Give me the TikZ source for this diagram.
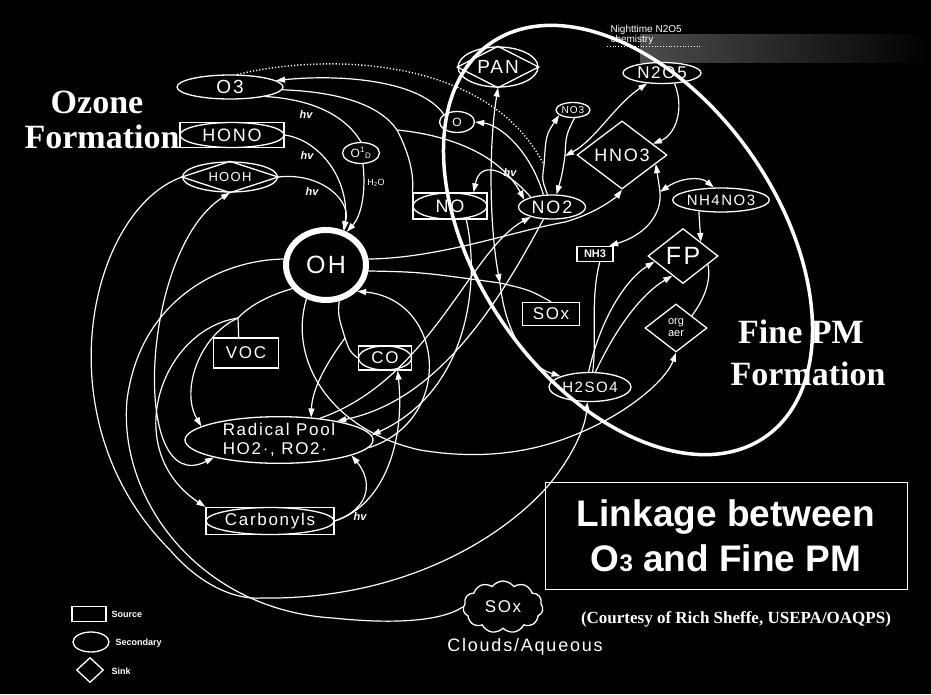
\documentclass[tikz,border=0pt]{standalone}
\usepackage{fontspec}
\setmainfont{Liberation Sans}
\newfontfamily\ozfont{Liberation Serif}
\newfontfamily\labfont[LetterSpace=10]{Liberation Sans}
\usetikzlibrary{shapes.geometric,shapes.symbols,arrows.meta,calc}
\newcommand\myfs[1]{\fontsize{#1}{#1}\selectfont}
\tikzset{
 ln/.style={draw=white, line width=1.2pt},
 arr/.style={ln, -{Triangle[length=9pt,width=6pt]}},
 arrb/.style={ln, {Triangle[length=9pt,width=6pt]}-{Triangle[length=9pt,width=6pt]}},
 nl/.style={draw=white, line width=1.3pt},
 box/.style={nl, rectangle, inner sep=0pt, text=white},
 ell/.style={nl, ellipse, inner sep=0pt, text=white},
 dia/.style={nl, diamond, inner sep=0pt, text=white},
 hv/.style={text=white, font=\bfseries\itshape\myfs{11}},
 big/.style={text=white, font=\ozfont\bfseries\myfs{34}},
}
\begin{document}
\begin{tikzpicture}[x=1pt,y=-1pt]
\useasboundingbox (0,0) rectangle (931,694);
\fill[black] (0,0) rectangle (931,694);
\shade[left color=gray!60!black, right color=black] (640,34) rectangle (931,62);
\node[anchor=west, text=white, font=\myfs{10}, align=left] (night) at (607,35) {Nighttime N2O5\\[0pt]chemistry};
\draw[white, dotted, line width=0.8pt] (607,46) -- (700,46);

% ---- nodes ----
\node[ell, minimum width=106pt, minimum height=24pt, font=\labfont\myfs{19}] (o3) at (230,87) {O3};
\node[box, minimum width=104pt, minimum height=25pt, font=\labfont\myfs{18}] (hono) at (232,135) {HONO};
\draw[nl] (hono.center) ellipse [x radius=52pt, y radius=12.5pt];
\node[ell, minimum width=95pt, minimum height=30pt, font=\labfont\myfs{13}] (hooh) at (230,177) {HOOH};
\draw[nl] (hooh.west) -- (hooh.north) -- (hooh.east) -- (hooh.south) -- cycle;
\node[ell, minimum width=37pt, minimum height=21pt, font=\myfs{12}] (o1d) at (361,153) {O\textsuperscript{1}\textsubscript{D}};
\node[text=white, font=\myfs{9}] (h2o) at (376,183) {H\textsubscript{2}O};
\node[ell, line width=6pt, minimum width=80pt, minimum height=70pt, font=\labfont\myfs{25}] (oh) at (326,265) {OH};
\node[box, minimum width=74pt, minimum height=26pt, font=\labfont\myfs{18}] (no) at (450,206) {NO};
\draw[nl] (no.center) ellipse [x radius=37pt, y radius=13pt];
\node[ell, minimum width=67pt, minimum height=24pt, font=\labfont\myfs{18}] (no2) at (552,207) {NO2};
\node[ell, minimum width=35pt, minimum height=21pt, font=\labfont\myfs{12}] (osm) at (457,122) {O};
\node[ell, minimum width=80pt, minimum height=40pt, font=\labfont\myfs{19}] (pan) at (498,67) {PAN};
\draw[nl] (pan.west) -- (pan.north) -- (pan.east) -- (pan.south) -- cycle;
\node[ell, minimum width=34pt, minimum height=15pt, font=\labfont\myfs{10}] (no3) at (573,110) {NO3};
\node[ell, minimum width=78pt, minimum height=21pt, font=\labfont\myfs{17}] (n2o5) at (662,73) {N2O5};
\node[dia, minimum width=90pt, minimum height=39pt, font=\labfont\myfs{18}] (hno3) at (622,155) {HNO3};
\node[ell, minimum width=87pt, minimum height=24pt, font=\labfont\myfs{15}] (nh4no3) at (721,200) {NH4NO3};
\node[box, minimum width=36pt, minimum height=15pt, font=\bfseries\myfs{11}] (nh3) at (595,254) {NH3};
\node[dia, minimum width=70pt, minimum height=55pt, font=\labfont\myfs{25}] (fp) at (683,256) {FP};
\node[dia, minimum width=62pt, minimum height=48pt, font=\fontsize{11}{12}\selectfont, align=center] (orgaer) at (676,328) {org\\aer};
\node[box, minimum width=57pt, minimum height=23pt, font=\labfont\myfs{17}] (sox) at (551,314) {SOx};
\node[ell, minimum width=82pt, minimum height=29pt, font=\labfont\myfs{15}] (h2so4) at (590,387) {H2SO4};
\node[box, minimum width=65pt, minimum height=30pt, font=\labfont\myfs{17}] (voc) at (246,353) {VOC};
\node[box, minimum width=53pt, minimum height=24pt, font=\labfont\myfs{17}] (co) at (385,358) {CO};
\draw[nl] (co.center) ellipse [x radius=26.5pt, y radius=12pt];
\node[ell, minimum width=188pt, minimum height=46pt, font=\labfont\fontsize{17}{18.5}\selectfont, align=left] (radpool) at (279,440) {Radical Pool\\HO2·, RO2·};
\node[box, minimum width=128pt, minimum height=27pt, font=\labfont\myfs{17}] (carb) at (270,521) {Carbonyls};
\draw[nl] (carb.center) ellipse [x radius=64pt, y radius=13.5pt];
\node[cloud, cloud puffs=11, cloud puff arc=110, aspect=1.4, nl, minimum width=80pt, minimum height=52pt, text=white, font=\labfont\myfs{17}] (cloud) at (503,607) {SOx};
\node[text=white, font=\labfont\myfs{18}] (cloudlbl) at (525,647) {Clouds/Aqueous};

% ---- labels ----
\node[hv] (hv1) at (306,115) {hv};
\node[hv] (hv2) at (307,156) {hv};
\node[hv] (hv3) at (312,192) {hv};
\node[hv] (hv4) at (510,173) {hv};
\node[hv] (hv5) at (360,517) {hv};
\node[big, anchor=base] (oz1) at (97,113) {Ozone};
\node[big, anchor=base] (oz2) at (102,148) {Formation};
\node[big, anchor=base] (fp1) at (801,343) {Fine PM};
\node[big, anchor=base] (fp2) at (808,385) {Formation};
\node[draw=white, line width=1pt, minimum width=362pt, minimum height=107pt, align=center, text=white, font=\bfseries\fontsize{37}{45}\selectfont] (title) at (726,536) {Linkage between\\O{\myfs{24}3} and Fine PM};
\node[text=white, font=\ozfont\bfseries\myfs{17}] (court) at (736,619) {(Courtesy of Rich Sheffe, USEPA/OAQPS)};

% legend
\node[box, minimum width=34pt, minimum height=15pt] (lgs) at (89,614) {};
\node[ell, minimum width=36pt, minimum height=20pt] (lge) at (91,642) {};
\node[dia, minimum width=27pt, minimum height=25pt] (lgd) at (90,670) {};
\node[anchor=west, text=white, font=\bfseries\myfs{9}] (lgst) at (108,614) {Source};
\node[anchor=west, text=white, font=\bfseries\myfs{9}] (lget) at (112,643) {Secondary};
\node[anchor=west, text=white, font=\bfseries\myfs{9}] (lgdt) at (108,671) {Sink};

% ---- junctions ----
\coordinate (J1) at (397,130);
\coordinate (J2) at (238,318);
\coordinate (J3) at (345,338);
\coordinate (J4) at (500,283);
\coordinate (J5) at (660,192);
\coordinate (J6) at (544,165);
\coordinate (J7) at (565,156);
\coordinate (B1) at (262,598);
\coordinate (B2) at (547,487);
\coordinate (fpne) at ($(fp.north)!0.5!(fp.east)$);
\coordinate (fpa) at ($(fp.west)!0.2!(fp.south)$);
\coordinate (fpb) at ($(fp.west)!0.7!(fp.south)$);
\coordinate (fpc) at ($(fp.east)!0.3!(fp.south)$);
\coordinate (oac) at ($(orgaer.north)!0.5!(orgaer.east)$);

% ---- top connectors ----
\draw[arr] (osm.150) .. controls (420,80) and (340,74) .. (o3.8);
\draw[arr] (no2.125) .. controls (530,150) and (500,125) .. (osm.east);
\draw[ln, dotted, line width=1.4pt] (o3.60) .. controls (330,52) and (490,58) .. (J6);
\draw[ln] (o3.-3) .. controls (340,92) and (380,105) .. (J1);
\draw[ln] (no.north west) .. controls (415,170) and (405,145) .. (J1);
\draw[arr] (J1) .. controls (450,135) and (500,155) .. (no2.165);
\draw[arr] (no2.155) .. controls (505,168) and (480,160) .. (no.30);
\draw[ln] (o3.-15) .. controls (320,100) and (348,120) .. (o1d.north);
\draw[arr] (o1d.-80) .. controls (366,190) and (362,215) .. (oh.58);
\draw[arr] (hono.east) .. controls (320,140) and (350,180) .. (oh.62);
\draw[arr] (hooh.east) .. controls (320,172) and (352,200) .. (oh.64);

% ---- left connectors ----
\draw[arr] (hooh.west) .. controls (90,210) and (40,420) .. (170,550) .. controls (200,585) and (235,600) .. (B1) .. controls (400,600) and (500,540) .. (B2) .. controls (570,460) and (585,430) .. (h2so4.-100);
\draw[ln] (oh.172) .. controls (220,260) and (140,300) .. (127,400) .. controls (118,500) and (200,610) .. (333,618) .. controls (390,624) and (440,622) .. (cloud.west);
\draw[arrb] (radpool.195) .. controls (130,500) and (140,250) .. (hooh.south);
\draw[ln] (oh.215) .. controls (270,295) and (250,305) .. (J2);
\draw[ln] (J2) -- (voc.115);
\draw[arr] (J2) .. controls (200,335) and (180,390) .. (radpool.170);
\draw[arr] (J2) .. controls (160,330) and (120,450) .. (carb.north west);
\draw[arr] (oh.240) .. controls (288,360) and (330,430) .. (420,450) .. controls (510,465) and (570,440) .. (610,418) .. controls (645,398) and (668,375) .. (orgaer.south);
\draw[ln] (oh.290) .. controls (338,315) .. (J3);
\draw[ln] (J3) .. controls (350,352) .. (co.west);
\draw[arr] (J3) .. controls (325,365) and (312,390) .. (radpool.35);
\draw[arr] (radpool.-5) .. controls (455,420) and (445,300) .. (oh.-40);
\draw[arr] (carb.east) .. controls (385,505) and (405,440) .. (co.-45);
\draw[arr] (carb.east) .. controls (372,508) and (372,480) .. (radpool.-12);

% ---- middle connectors ----
\draw[arr] (no.-40) .. controls (480,280) and (470,390) .. (radpool.3);
\draw[arr] (no2.235) .. controls (500,300) and (440,400) .. (radpool.18);
\draw[arr] (radpool.28) .. controls (430,380) and (470,250) .. (no2.205);
\draw[arr] (oh.8) .. controls (440,258) and (510,232) .. (565,222) .. controls (600,212) and (618,195) .. (hno3.south);
\draw[ln] (oh.-8) .. controls (420,272) .. (J4) .. controls (530,290) .. (sox.north);
\draw[arr] (J4) .. controls (505,330) and (525,365) .. (h2so4.160);
\draw[arrb] (pan.south) .. controls (488,150) and (490,230) .. (J4);

% ---- right connectors ----
\draw[arr] (no2.110) .. controls (542,180) .. (J6) .. controls (546,135) .. (no3.200);
\draw[arr] (no3.-80) .. controls (566,135) .. (J7) .. controls (562,175) .. (no2.70);
\draw[arrb] (J7) .. controls (595,140) and (615,105) .. (n2o5.215);
\draw[arr] (n2o5.-40) .. controls (685,110) and (675,135) .. (hno3.20);
\draw[arrb] (nh3.30) .. controls (645,235) and (662,215) .. (J5) .. controls (658,178) .. (hno3.-15);
\draw[arrb] (J5) .. controls (680,178) and (700,176) .. (nh4no3.120);
\draw[arr] (nh4no3.-153) -- (fpne);
\draw[ln] (nh3.-60) .. controls (590,300) and (597,340) .. (h2so4.80);
\draw[arr] (h2so4.95) .. controls (600,320) and (625,280) .. (fpa);
\draw[arr] (h2so4.70) .. controls (615,330) and (640,295) .. (fpb);
\draw[ln] (fpc) .. controls (712,285) and (700,305) .. (oac);

% ---- Fine PM boundary ----
\draw[white, line width=3.5pt, rotate around={-55:(628,240)}] (628,240) ellipse [x radius=240pt, y radius=150pt];
\end{tikzpicture}
\end{document}
